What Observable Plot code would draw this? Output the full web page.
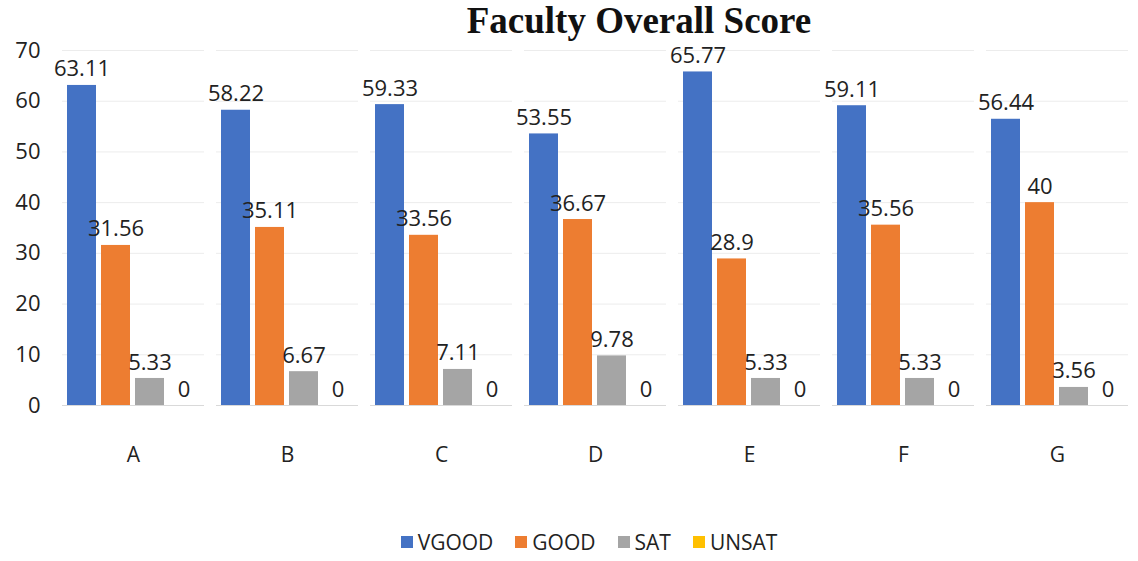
<!DOCTYPE html>
<html>
<head>
<meta charset="utf-8">
<script src="https://cdn.jsdelivr.net/npm/d3@7"></script>
<script src="https://cdn.jsdelivr.net/npm/@observablehq/plot@0.6"></script>
<style>
  body { margin: 0; background: #fff; width: 1138px; height: 561px; overflow: hidden; position: relative; font-family: "Liberation Sans Narrow", "Open Sans", sans-serif; }
  #title { position: absolute; top: 0px; left: 0; width: 1138px; text-align: center; font-family: "Liberation Serif", "DejaVu Serif", serif; font-weight: bold; font-size: 37px; line-height: 42px; color: #111; padding-left: 140px; box-sizing: border-box; }
  #chart { position: absolute; top: 0; left: 0; }
  #legend { position: absolute; top: 528px; left: 0; width: 1138px; display: flex; justify-content: center; gap: 22px; font-size: 21px; color: #222; padding-left: 40px; box-sizing: border-box; }
  .sw { display: inline-block; width: 12px; height: 12px; margin-right: 5px; vertical-align: middle; position: relative; top: -2px; }
</style>
</head>
<body>
<div id="chart"></div>
<div id="title">Faculty Overall Score</div>
<div id="legend"></div>
<script>
const categories = ["A", "B", "C", "D", "E", "F", "G"];
const seriesNames = ["VGOOD", "GOOD", "SAT", "UNSAT"];
const vgood = [63.11, 58.22, 59.33, 53.55, 65.77, 59.11, 56.44];
const good  = [31.56, 35.11, 33.56, 36.67, 28.9, 35.56, 40];
const sat   = [5.33, 6.67, 7.11, 9.78, 5.33, 5.33, 3.56];
const unsat = [0, 0, 0, 0, 0, 0, 0];
const colors = ["#4472C4", "#ED7D31", "#A5A5A5", "#FFC000"];
const yTicks = [0, 10, 20, 30, 40, 50, 60, 70];

const seriesValues = [vgood, good, sat, unsat];
const data = [];
categories.forEach((c, i) => {
  seriesNames.forEach((s, j) => data.push({cat: c, series: s, value: seriesValues[j][i]}));
});

const font = "Liberation Sans Narrow, Open Sans, sans-serif";
const chart = Plot.plot({
  width: 1138,
  height: 500,
  marginTop: 50,
  marginBottom: 95,
  marginLeft: 62,
  marginRight: 10,
  style: {fontFamily: font, fontSize: "21px", color: "#222", background: "transparent"},
  fx: {domain: categories, padding: 0.08, label: null},
  x: {domain: seriesNames, padding: 0.14, axis: null},
  y: {domain: [0, 70], ticks: yTicks, label: null},
  color: {domain: seriesNames, range: colors},
  marks: [
    Plot.ruleY(yTicks, {stroke: "#ececec", strokeWidth: 1}),
    Plot.axisY({ticks: yTicks, tickSize: 0, tickPadding: 22, label: null, fontSize: 22}),
    Plot.axisFx({anchor: "bottom", tickSize: 0, tickPadding: 42, label: null, fontSize: 21}),
    Plot.barY(data, {fx: "cat", x: "series", y: "value", fill: "series"}),
    Plot.text(data, {fx: "cat", x: "series", y: "value", text: d => String(d.value), dy: -16, fill: "#222", fontSize: 22}),
    Plot.ruleY([0], {stroke: "#d9d9d9"})
  ]
});
document.getElementById("chart").appendChild(chart);

const legend = document.getElementById("legend");
seriesNames.forEach((s, j) => {
  const item = document.createElement("span");
  item.innerHTML = `<span class="sw" style="background:${colors[j]}"></span>${s}`;
  legend.appendChild(item);
});
</script>
</body>
</html>
